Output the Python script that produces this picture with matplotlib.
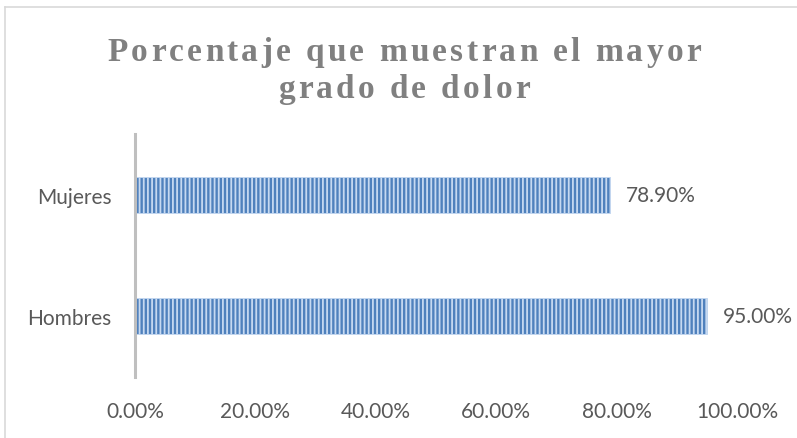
import matplotlib
matplotlib.use("Agg")
import matplotlib.pyplot as plt
from matplotlib.lines import Line2D

categories = ["Hombres", "Mujeres"]
values = [95.00, 78.90]
xticks = [0, 20, 40, 60, 80, 100]
title_lines = ["Porcentaje que muestran el mayor", "grado de dolor"]

W, H = 797, 439
fig = plt.figure(figsize=(W / 100, H / 100), dpi=100)
fig.patch.set_facecolor("white")

# axes box: x 135..737 px, y 135..378 px
ax = fig.add_axes([135 / W, 1 - 378 / H, 602 / W, 243 / H])
ax.set_facecolor("white")

plt.rcParams['hatch.linewidth'] = 1.3
bars = ax.barh(range(len(categories)), values, height=0.3,
               color="#4f81bd", edgecolor="#c6d9f1", hatch="||||", linewidth=0.6)

ax.set_xlim(0, 100)
ax.set_ylim(-0.5, 1.5)
for s in ["top", "right", "bottom"]:
    ax.spines[s].set_visible(False)
ax.spines["left"].set_color("#bfbfbf")
ax.spines["left"].set_linewidth(2.2)

txt_color = "#595959"
fs = 15
ax.set_xticks(xticks)
ax.set_xticklabels(["%.2f%%" % t for t in xticks], fontsize=fs,
                   color=txt_color, family="Lato")
ax.set_yticks(range(len(categories)))
ax.set_yticklabels(categories, fontsize=fs, color=txt_color, family="Lato")
ax.tick_params(axis="x", length=0, pad=17)
ax.tick_params(axis="y", length=0, pad=17)

for i, v in enumerate(values):
    ax.text(v + 2.7, i, "%.2f%%" % v, va="center", ha="left",
            fontsize=fs, color=txt_color, family="Lato")

# chart border (left and top only visible)
fig.add_artist(Line2D([5 / W, 5 / W], [0, 1 - 8 / H], color="#d9d9d9", lw=1.2))
fig.add_artist(Line2D([5 / W, 1], [1 - 8 / H, 1 - 8 / H], color="#d9d9d9", lw=1.2))

# letter-spaced title, drawn char by char
fig.canvas.draw()
renderer = fig.canvas.get_renderer()
tsize = 24
tprops = dict(family="Liberation Serif", weight="bold", fontsize=tsize, color="#808080")
targets = [(61, 594), (98, 252)]
cx = 404
for line, (base_y, width) in zip(title_lines, targets):
    widths = []
    for ch in line:
        if ch == " ":
            widths.append(0.25 * tsize * 100 / 72)
        else:
            t = fig.text(0, 0, ch, **tprops)
            widths.append(t.get_window_extent(renderer).width)
            t.remove()
    gap = (width - sum(widths)) / (len(line) - 1)
    x = cx - width / 2
    for ch, w in zip(line, widths):
        if ch != " ":
            fig.text(x / W, 1 - base_y / H, ch, ha="left", va="baseline", **tprops)
        x += w + gap

fig.savefig("out.png", dpi=100, facecolor="white")
